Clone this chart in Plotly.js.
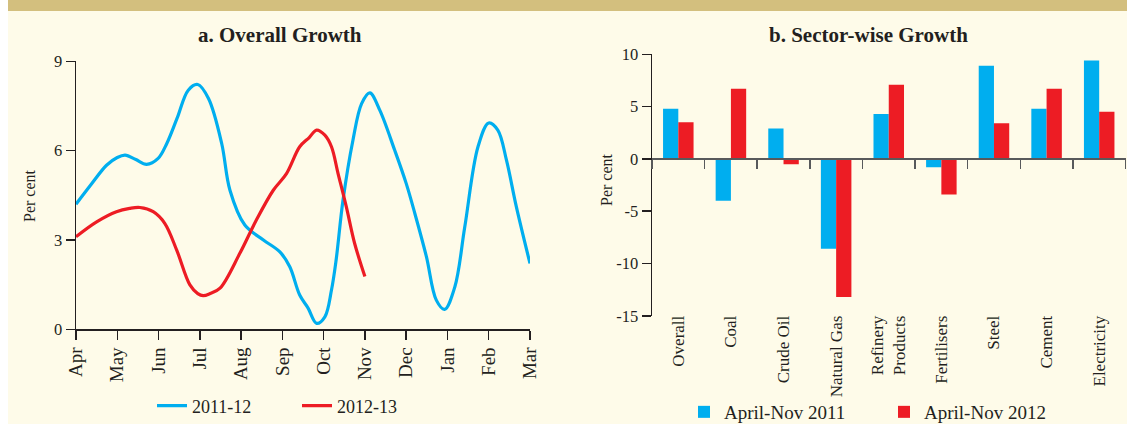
<!DOCTYPE html>
<html>
<head>
<meta charset="utf-8">
<script src="https://cdn.plot.ly/plotly-3.0.1.min.js"></script>
<style>
  html, body { margin: 0; padding: 0; background: #ffffff; }
  #wrap { position: relative; width: 1127px; height: 424px; overflow: hidden; }
  #cream { position: absolute; left: 8px; top: 0; width: 1119px; height: 424px; background: #FEFBE9; }
  #band { position: absolute; left: 8px; top: 0; width: 1119px; height: 11px; background: #D3BF7E; }
  #plot { position: absolute; left: 0; top: 0; width: 1127px; height: 424px; }
</style>
</head>
<body>
<div id="wrap">
  <div id="cream"></div>
  <div id="band"></div>
  <div id="plot"></div>
</div>
<script>
// ---- Panel a: Overall growth (month index 0 = Apr ... 11 = Mar) ----
const months = ["Apr","May","Jun","Jul","Aug","Sep","Oct","Nov","Dec","Jan","Feb","Mar"];
const monthPos = [0,1,2,3,4,5,6,7,8,9,10,11];

const x2011 = [0, 0.37, 0.74, 1.0, 1.19, 1.45, 1.71, 1.99, 2.2, 2.45, 2.72, 2.95, 3.21, 3.53, 3.73, 4.09, 4.54, 4.94, 5.18, 5.42, 5.62, 5.83, 6.03, 6.19, 6.3, 6.47, 6.71, 6.92, 7.12, 7.36, 7.72, 8.0, 8.21, 8.49, 8.73, 8.93, 9.18, 9.42, 9.74, 10.0, 10.22, 10.43, 10.67, 11.0];
const y2011 = [4.2, 4.87, 5.51, 5.77, 5.85, 5.7, 5.54, 5.74, 6.24, 7.09, 8.03, 8.22, 7.75, 6.24, 4.67, 3.5, 3.0, 2.6, 2.1, 1.15, 0.72, 0.2, 0.42, 1.32, 2.3, 4.34, 6.35, 7.58, 7.94, 7.36, 6.02, 4.9, 3.89, 2.44, 0.98, 0.67, 1.43, 3.44, 6.13, 6.93, 6.69, 5.68, 4.11, 2.21];

const x2012 = [0, 0.5, 0.98, 1.3, 1.55, 1.87, 2.15, 2.44, 2.76, 2.95, 3.08, 3.25, 3.49, 3.97, 4.37, 4.78, 5.1, 5.42, 5.65, 5.83, 6.03, 6.19, 6.35, 6.55, 6.75, 7.0];
const y2012 = [3.11, 3.61, 3.95, 4.06, 4.09, 3.95, 3.56, 2.66, 1.49, 1.2, 1.13, 1.2, 1.38, 2.55, 3.67, 4.67, 5.23, 6.13, 6.44, 6.69, 6.52, 6.13, 5.23, 4.11, 2.89, 1.77];

// ---- Panel b: Sector-wise growth ----
const sectors = ["Overall","Coal","Crude Oil","Natural Gas","Refinery<br>Products","Fertilisers","Steel","Cement","Electricity"];
const aprNov2011 = [4.8, -4.0, 2.9, -8.6, 4.3, -0.8, 8.9, 4.8, 9.4];
const aprNov2012 = [3.5, 6.7, -0.5, -13.2, 7.1, -3.4, 3.4, 6.7, 4.5];
const barTicks = [-15, -10, -5, 0, 5, 10];
const barTickText = ["-15", "-10", "-5", "0", "5", "10"];

const BLUE = "#00AEEF", RED = "#ED1C24", INK = "#231F20";
const FONT = "Liberation Serif, Times New Roman, serif";
const W = 1127, H = 424;
const px = v => v / W;
const py = v => (H - v) / H;

const traces = [
  {x: x2011, y: y2011, type: "scatter", mode: "lines", name: "2011-12",
   line: {color: BLUE, width: 3.2, shape: "spline", smoothing: 1}, xaxis: "x", yaxis: "y", legend: "legend"},
  {x: x2012, y: y2012, type: "scatter", mode: "lines", name: "2012-13",
   line: {color: RED, width: 3.2, shape: "spline", smoothing: 1}, xaxis: "x", yaxis: "y", legend: "legend"},
  {x: sectors, y: aprNov2011, type: "bar", name: "April-Nov 2011", marker: {color: BLUE},
   xaxis: "x2", yaxis: "y2", legend: "legend2"},
  {x: sectors, y: aprNov2012, type: "bar", name: "April-Nov 2012", marker: {color: RED},
   xaxis: "x2", yaxis: "y2", legend: "legend2"}
];

const yb0 = py(315.8), yb1 = py(54.3);
const zeroPos = yb0 + (15 / 25) * (yb1 - yb0);

const layout = {
  width: W, height: H,
  margin: {l: 0, r: 0, t: 0, b: 0, autoexpand: false},
  paper_bgcolor: "rgba(0,0,0,0)", plot_bgcolor: "rgba(0,0,0,0)",
  font: {family: FONT, color: INK, size: 16},
  showlegend: true,
  barmode: "group", bargap: 0.42, bargroupgap: 0,
  xaxis: {
    domain: [px(76), px(530)], range: [0, 11], anchor: "y",
    tickvals: monthPos, ticktext: months, tickangle: -90,
    ticks: "outside", ticklen: 9, tickwidth: 1.5, tickcolor: INK,
    showline: true, linecolor: INK, linewidth: 1.5,
    showgrid: false, zeroline: false, tickfont: {size: 19}
  },
  yaxis: {
    domain: [py(329.3), py(61.3)], range: [0, 9], anchor: "x",
    tickvals: [0, 3, 6, 9], ticks: "outside", ticklen: 9, tickwidth: 1.5, tickcolor: INK,
    showline: true, linecolor: INK, linewidth: 1.5,
    showgrid: false, zeroline: false, tickfont: {size: 16.5}
  },
  xaxis2: {
    domain: [px(652), px(1125.5)], anchor: "free", position: zeroPos,
    type: "category", tickson: "boundaries",
    ticks: "outside", ticklen: 9, tickwidth: 1.5, tickcolor: "#58595B",
    showline: true, linecolor: "#58595B", linewidth: 2,
    showgrid: false, zeroline: false, tickangle: -90,
    ticklabelstandoff: 149, tickfont: {size: 17}
  },
  yaxis2: {
    domain: [yb0, yb1], range: [-15, 10], anchor: "x2",
    tickvals: barTicks, ticktext: barTickText,
    ticks: "outside", ticklen: 9, tickwidth: 1.5, tickcolor: INK,
    showline: true, linecolor: INK, linewidth: 1.5,
    showgrid: false, zeroline: false, tickfont: {size: 16.5}
  },
  legend: {
    orientation: "h", x: px(152), xanchor: "left", y: py(406), yanchor: "middle",
    entrywidth: 100, entrywidthmode: "pixels", bgcolor: "rgba(0,0,0,0)",
    font: {size: 18}
  },
  legend2: {
    orientation: "h", x: px(684), xanchor: "left", y: py(412), yanchor: "middle",
    entrywidth: 155, entrywidthmode: "pixels", bgcolor: "rgba(0,0,0,0)",
    font: {size: 19}
  },
  annotations: [
    {text: "<b>a. Overall Growth</b>", xref: "paper", yref: "paper", x: px(280), y: py(35),
     showarrow: false, font: {size: 21}, xanchor: "center", yanchor: "middle"},
    {text: "<b>b. Sector-wise Growth</b>", xref: "paper", yref: "paper", x: px(869), y: py(35),
     showarrow: false, font: {size: 21}, xanchor: "center", yanchor: "middle"},
    {text: "Per cent", xref: "paper", yref: "paper", x: px(29), y: py(196), textangle: -90,
     showarrow: false, font: {size: 16}, xanchor: "center", yanchor: "middle"},
    {text: "Per cent", xref: "paper", yref: "paper", x: px(606), y: py(180), textangle: -90,
     showarrow: false, font: {size: 16}, xanchor: "center", yanchor: "middle"}
  ]
};

Plotly.newPlot("plot", traces, layout, {displayModeBar: false, staticPlot: true});
</script>
</body>
</html>
